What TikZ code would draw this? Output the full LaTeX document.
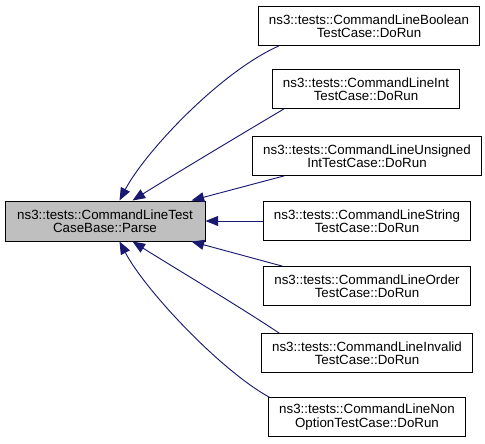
\documentclass[tikz,border=0pt]{standalone}
\usepackage{fontspec}
\setmainfont{Liberation Sans}
\usetikzlibrary{arrows.meta,calc}

\definecolor{edgeblue}{RGB}{25,25,112}
\definecolor{graybox}{RGB}{191,191,191}

\begin{document}
\begin{tikzpicture}[x=0.75pt,y=-0.75pt,
  fnbox/.style={draw=black, line width=0.75pt, fill=white, align=center,
    inner xsep=7.8pt, inner ysep=0pt, minimum height=29pt,
    font=\fontsize{10}{10}\selectfont},
  mainbox/.style={fnbox, fill=graybox, minimum width=150pt, minimum height=30pt},
  callarrow/.style={draw=edgeblue, line width=0.7pt,
    -{Triangle[length=9.5pt,width=7.5pt,fill=edgeblue]}}]

\useasboundingbox (0,0) rectangle (485,443);

% Function on the left
\node[mainbox] (parse) at (105,221) {ns3::tests::CommandLineTest\\CaseBase::Parse};

% Callers on the right
\node[fnbox] (boolean) at (369,26) {ns3::tests::CommandLineBoolean\\TestCase::DoRun};
\node[fnbox] (int) at (366,89) {ns3::tests::CommandLineInt\\TestCase::DoRun};
\node[fnbox] (unsigned) at (367,156) {ns3::tests::CommandLineUnsigned\\IntTestCase::DoRun};
\node[fnbox] (string) at (367,221) {ns3::tests::CommandLineString\\TestCase::DoRun};
\node[fnbox] (order) at (367,286) {ns3::tests::CommandLineOrder\\TestCase::DoRun};
\node[fnbox] (invalid) at (367,353) {ns3::tests::CommandLineInvalid\\TestCase::DoRun};
\node[fnbox] (nonoption) at (367,417) {ns3::tests::CommandLineNon\\OptionTestCase::DoRun};

% Edges above
\draw[callarrow] ($(boolean.south west)+(21,0)$) .. controls (220,72) and (145,152) .. ($(parse.north west)+(115,0)$);
\draw[callarrow] ($(int.south west)+(12,0)$) .. controls (245,132) and (165,180) .. ($(parse.north west)+(128,0)$);
\draw[callarrow] ($(unsigned.south west)+(32,0)$) -- ($(parse.north west)+(187,0)$);

% Edge in the middle
\draw[callarrow] (string.west) -- (parse.east);

% Edges below
\draw[callarrow] ($(order.north west)+(19,0)$) -- ($(parse.south west)+(187,0)$);
\draw[callarrow] ($(invalid.north west)+(18,0)$) .. controls (245,310) and (165,262) .. ($(parse.south west)+(128,0)$);
\draw[callarrow] ($(nonoption.north west)+(1,0)$) .. controls (220,370) and (145,290) .. ($(parse.south west)+(115,0)$);

\end{tikzpicture}
\end{document}
